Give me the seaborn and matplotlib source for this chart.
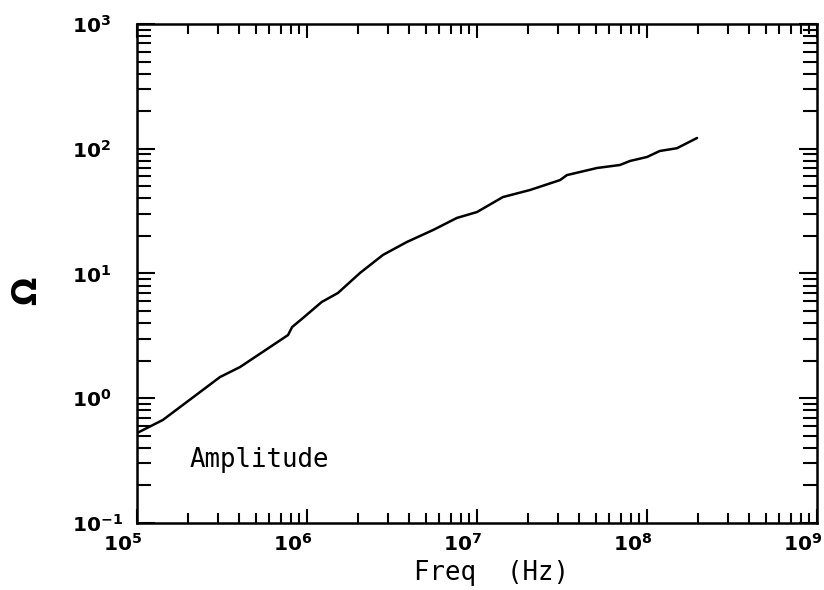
import numpy as np
import pandas as pd
import matplotlib
matplotlib.use("Agg")
import matplotlib.pyplot as plt
import matplotlib.ticker as mticker
import matplotlib.transforms as mtransforms
import seaborn as sns

# Amplitude curve (log-log)
freq_hz = [1.0e5, 1.42e5, 3.08e5, 4.04e5, 7.73e5, 8.17e5, 9.47e5, 1.22e6,
           1.52e6, 2.05e6, 2.80e6, 3.87e6, 5.51e6, 7.62e6, 1.0e7, 1.42e7,
           2.05e7, 3.08e7, 3.38e7, 5.08e7, 6.93e7, 7.94e7, 1.0e8, 1.19e8,
           1.50e8, 1.97e8]
amplitude_ohm = [0.526, 0.67, 1.48, 1.78, 3.21, 3.72, 4.40, 5.91,
                 6.98, 10.1, 14.1, 17.9, 22.3, 27.9, 31.1, 41.0,
                 46.7, 56.1, 61.5, 70.1, 74.1, 79.8, 85.9, 96.0,
                 101.0, 122.0]

df = pd.DataFrame({"freq": freq_hz, "amp": amplitude_ohm})

sns.set_style("ticks")
plt.rcParams["font.family"] = ["DejaVu Sans"]
for key in ["text.color", "axes.labelcolor", "xtick.color", "ytick.color"]:
    plt.rcParams[key] = "black"

fig = plt.figure(figsize=(8.24, 5.90), dpi=100)
ax = fig.add_axes([0.1663, 0.1136, 0.8252, 0.8457])

sns.lineplot(data=df, x="freq", y="amp", ax=ax, color="black", linewidth=1.8)

ax.set_xscale("log")
ax.set_yscale("log")
ax.set_xlim(1e5, 1e9)
ax.set_ylim(1e-1, 1e3)

fmt = mticker.FuncFormatter(lambda v, p: r"$\mathbf{10^{%d}}$" % round(np.log10(v)))
ax.xaxis.set_major_formatter(fmt)
ax.yaxis.set_major_formatter(fmt)
ax.xaxis.set_minor_formatter(mticker.NullFormatter())
ax.yaxis.set_minor_formatter(mticker.NullFormatter())
ax.xaxis.set_minor_locator(mticker.LogLocator(base=10, subs=np.arange(2, 10), numticks=20))
ax.yaxis.set_minor_locator(mticker.LogLocator(base=10, subs=np.arange(2, 10), numticks=20))

ax.tick_params(which="both", direction="in", top=True, right=True, width=1.5)
ax.tick_params(which="major", labelsize=14.5)
ax.tick_params(axis="x", which="major", length=10, pad=7)
ax.tick_params(axis="x", which="minor", length=7)
ax.tick_params(axis="y", which="major", length=13, pad=47)
ax.tick_params(axis="y", which="minor", length=10)

# x labels sit just left of their tick, y labels are left-aligned in a column
shift = mtransforms.ScaledTranslation(5 / 100, 0, fig.dpi_scale_trans)
for lab in ax.get_xticklabels():
    lab.set_ha("right")
    lab.set_transform(lab.get_transform() + shift)
for lab in ax.get_yticklabels():
    lab.set_ha("left")

for side in ax.spines.values():
    side.set_linewidth(1.8)
    side.set_color("black")

ax.set_xlabel("Freq  (Hz)", fontsize=18.5, family="DejaVu Sans Mono")
ax.xaxis.set_label_coords(0.522, -0.075)
ax.set_ylabel("\u03a9", fontsize=24, fontweight="bold", va="center")
ax.yaxis.set_label_coords(-0.163, 0.465)

ax.text(2.05e5, 0.281, "Amplitude", fontsize=18.5, family="DejaVu Sans Mono",
        va="baseline", ha="left")

fig.savefig("out.png", dpi=100)
